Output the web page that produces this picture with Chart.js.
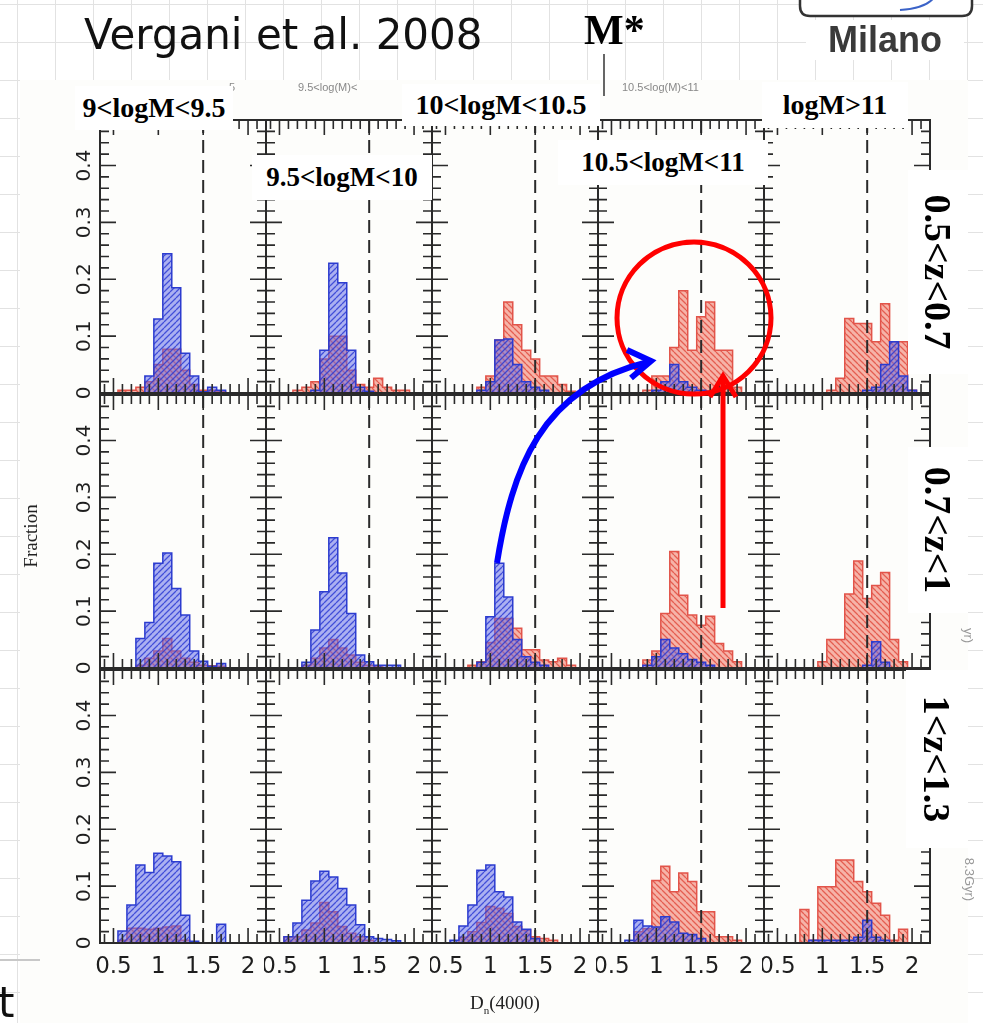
<!DOCTYPE html>
<html>
<head>
<meta charset="utf-8">
<script src="https://cdn.jsdelivr.net/npm/chart.js@4.4.1/dist/chart.umd.min.js"></script>
<style>
html, body { margin: 0; padding: 0; }
body {
  width: 983px; height: 1023px; position: relative; overflow: hidden; background: #fff;
  background-image: linear-gradient(#e2e2e2 1px, transparent 1px), linear-gradient(90deg, #e2e2e2 1px, transparent 1px);
  background-size: 38px 38px; background-position: 0 4px, 17px 0;
}
#fig { position: absolute; left: 20px; top: 80px; width: 948px; height: 943px; background: #fdfdfb; }
#plots { position: absolute; left: 0; top: 0; z-index: 1; }
#plots canvas { position: absolute; }
#marks { position: absolute; left: 0; top: 0; z-index: 2; }
.box { position: absolute; background: #fff; z-index: 3; display: flex; align-items: center; justify-content: center;
  font-family: "Liberation Serif", serif; font-weight: bold; color: #000; white-space: nowrap; }
.rot { transform: rotate(90deg); }
.txt { position: absolute; white-space: nowrap; z-index: 3; }
</style>
</head>
<body>
<div id="fig"></div>
<div id="plots"></div>

<svg id="marks" width="983" height="1023">
  <ellipse cx="694" cy="318" rx="77" ry="76" fill="none" stroke="#ff0000" stroke-width="5"/>
  <path d="M723 608 L723 377" stroke="#ff0000" stroke-width="5" fill="none"/>
  <path d="M710 397 L723 376 L736 397" stroke="#ff0000" stroke-width="5" fill="none"/>
  <path d="M497 563 C512 470 540 388 648 362" stroke="#0000ff" stroke-width="6" fill="none"/>
  <path d="M627 350 L651 361 L631 378" stroke="#0000ff" stroke-width="6" fill="none"/>
  <line x1="604" y1="54" x2="604" y2="96" stroke="#000" stroke-width="1.2"/>
  <path d="M800 -20 L800 6 Q800 16 810 16 L962 16 Q972 16 972 6 L972 -20" stroke="#333" stroke-width="2.5" fill="#fff"/>
  <path d="M900 10 Q930 8 936 -6" stroke="#3b63c8" stroke-width="2" fill="none"/>
  <line x1="0" y1="960" x2="40" y2="960" stroke="#c8c8c8" stroke-width="2"/>
</svg>

<div class="txt" style="left:84px;top:10px;font:42px 'DejaVu Sans';color:#111;">Vergani et al. 2008</div>
<div class="txt" style="left:584px;top:6px;font:bold 42px 'Liberation Serif';color:#000;">M*</div>
<div class="box" style="left:806px;top:20px;width:158px;height:40px;font-family:'Liberation Sans';font-size:36px;color:#3a3a3a;">Milano</div>
<div class="txt" style="left:-2px;top:978px;font:42px 'DejaVu Sans';color:#111;">t</div>

<div class="txt" style="left:229px;top:81px;font:11px 'Liberation Sans';color:#888;">5</div>
<div class="txt" style="left:298px;top:81px;font:11px 'Liberation Sans';color:#888;">9.5&lt;log(M)&lt;</div>
<div class="txt" style="left:622px;top:81px;font:11px 'Liberation Sans';color:#888;">10.5&lt;log(M)&lt;11</div>

<div class="box" style="left:75px;top:86px;width:158px;height:44px;font-size:28px;">9&lt;logM&lt;9.5</div>
<div class="box" style="left:252px;top:155px;width:180px;height:45px;font-size:27px;">9.5&lt;logM&lt;10</div>
<div class="box" style="left:402px;top:84px;width:198px;height:42px;font-size:28px;">10&lt;logM&lt;10.5</div>
<div class="box" style="left:558px;top:140px;width:210px;height:45px;font-size:27px;">10.5&lt;logM&lt;11</div>
<div class="box" style="left:762px;top:82px;width:146px;height:46px;font-size:28px;">logM&gt;11</div>

<div class="box" style="left:908px;top:170px;width:60px;height:204px;font-size:38px;"><span class="rot">0.5&lt;z&lt;0.7</span></div>
<div class="box" style="left:908px;top:447px;width:60px;height:166px;font-size:38px;"><span class="rot">0.7&lt;z&lt;1</span></div>
<div class="box" style="left:906px;top:670px;width:62px;height:178px;font-size:38px;"><span class="rot">1&lt;z&lt;1.3</span></div>

<div class="txt" style="left:961px;top:628px;font:13px 'Liberation Sans';color:#999;transform:rotate(90deg);">yr)</div>
<div class="txt" style="left:948px;top:872px;font:13px 'Liberation Sans';color:#999;transform:rotate(90deg);">8.3Gyr)</div>

<div class="txt" style="left:-4px;top:525px;width:70px;text-align:center;font:19px 'Liberation Serif';color:#222;transform:rotate(-90deg);">Fraction</div>
<div class="txt" style="left:470px;top:992px;font:19px 'Liberation Serif';color:#222;">D<sub style="font-size:11px;">n</sub>(4000)</div>

<script>
// D_n(4000) bin centres shared by all panels
const binCenters = [0.5, 0.6, 0.7, 0.8, 0.9, 1.0, 1.1, 1.2, 1.3, 1.4, 1.5, 1.6, 1.7, 1.8, 1.9, 2.0, 2.1];
const yTickValues = [0, 0.1, 0.2, 0.3, 0.4];
const yTickLabels = ['0', '0.1', '0.2', '0.3', '0.4'];
const xTickValues = [0.5, 1, 1.5, 2];
const xTickLabels = ['0.5', '1', '1.5', '2'];
const mStarD4000 = 1.5;

// 0.5<z<0.7, columns = 9<logM<9.5 ... logM>11
const blueZ1 = [
  [0, 0, 0, 0, 0.03, 0.13, 0.245, 0.185, 0.07, 0.03, 0.002, 0.01, 0.005, 0, 0, 0, 0],
  [0, 0, 0, 0, 0.005, 0.075, 0.228, 0.194, 0.075, 0.01, 0.003, 0, 0, 0, 0, 0, 0],
  [0, 0, 0, 0, 0.005, 0.02, 0.093, 0.095, 0.05, 0.02, 0.01, 0.005, 0, 0, 0, 0, 0],
  [0, 0, 0, 0, 0, 0.005, 0.02, 0.05, 0.02, 0.01, 0.005, 0.003, 0, 0, 0, 0, 0],
  [0, 0, 0, 0, 0, 0, 0, 0, 0, 0, 0.005, 0.01, 0.05, 0.09, 0.03, 0.005, 0]
];
const redZ1 = [
  [0, 0.005, 0.005, 0.01, 0.02, 0.05, 0.077, 0.077, 0.04, 0.015, 0.005, 0.005, 0.003, 0, 0, 0, 0],
  [0, 0, 0.005, 0.01, 0.02, 0.06, 0.1, 0.1, 0.04, 0.015, 0.01, 0.026, 0.01, 0.005, 0.005, 0, 0],
  [0, 0, 0, 0, 0.01, 0.03, 0.093, 0.16, 0.12, 0.075, 0.06, 0.03, 0.03, 0.015, 0.003, 0, 0],
  [0, 0, 0, 0, 0.005, 0.03, 0.03, 0.08, 0.18, 0.075, 0.134, 0.16, 0.075, 0.075, 0.01, 0, 0],
  [0, 0, 0, 0, 0, 0, 0.005, 0.026, 0.131, 0.122, 0.122, 0.09, 0.157, 0.09, 0.09, 0.005, 0]
];
// 0.7<z<1
const blueZ2 = [
  [0, 0, 0, 0.052, 0.08, 0.184, 0.202, 0.14, 0.093, 0.03, 0.012, 0.003, 0.008, 0, 0, 0, 0],
  [0, 0, 0, 0.01, 0.067, 0.134, 0.229, 0.167, 0.096, 0.023, 0.011, 0.005, 0.005, 0.005, 0, 0, 0],
  [0, 0, 0, 0, 0.01, 0.09, 0.184, 0.125, 0.05, 0.02, 0.01, 0.005, 0, 0, 0, 0, 0],
  [0, 0, 0, 0, 0.005, 0.02, 0.05, 0.035, 0.025, 0.015, 0.01, 0.005, 0, 0, 0, 0, 0],
  [0, 0, 0, 0, 0, 0, 0, 0, 0, 0, 0.005, 0.046, 0.01, 0, 0, 0, 0]
];
const redZ2 = [
  [0, 0, 0, 0.005, 0.017, 0.03, 0.052, 0.03, 0.017, 0.01, 0.005, 0.004, 0.003, 0, 0, 0, 0],
  [0, 0, 0, 0.005, 0.017, 0.035, 0.05, 0.035, 0.023, 0.01, 0.005, 0.003, 0, 0, 0, 0, 0],
  [0, 0, 0, 0.005, 0.011, 0.045, 0.087, 0.087, 0.07, 0.032, 0.032, 0.014, 0.011, 0.017, 0.005, 0, 0],
  [0, 0, 0, 0, 0.014, 0.03, 0.096, 0.205, 0.128, 0.093, 0.075, 0.091, 0.043, 0.03, 0.011, 0, 0],
  [0, 0, 0, 0, 0, 0.011, 0.05, 0.05, 0.13, 0.188, 0.122, 0.145, 0.168, 0.05, 0.011, 0, 0]
];
// 1<z<1.3
const blueZ3 = [
  [0, 0.021, 0.067, 0.137, 0.124, 0.158, 0.153, 0.143, 0.049, 0.003, 0, 0, 0.033, 0, 0, 0, 0],
  [0, 0.011, 0.035, 0.075, 0.109, 0.126, 0.116, 0.096, 0.067, 0.032, 0.011, 0.008, 0.006, 0.004, 0, 0, 0],
  [0, 0.005, 0.03, 0.067, 0.128, 0.137, 0.09, 0.081, 0.037, 0.024, 0.008, 0, 0, 0, 0, 0, 0],
  [0, 0, 0.005, 0.04, 0.03, 0.028, 0.046, 0.037, 0.017, 0.015, 0.008, 0, 0, 0, 0, 0, 0],
  [0, 0, 0, 0, 0.005, 0.005, 0.005, 0.005, 0.005, 0.01, 0.04, 0.01, 0.005, 0, 0, 0, 0]
];
const redZ3 = [
  [0, 0.005, 0.026, 0.026, 0.024, 0.026, 0.028, 0.03, 0.005, 0, 0, 0, 0, 0, 0, 0, 0],
  [0, 0.011, 0.011, 0.023, 0.035, 0.071, 0.055, 0.029, 0.017, 0.011, 0.005, 0, 0, 0, 0, 0, 0],
  [0, 0, 0.01, 0.02, 0.036, 0.064, 0.061, 0.052, 0.029, 0.023, 0.011, 0.008, 0.005, 0, 0, 0, 0],
  [0, 0, 0, 0.02, 0.025, 0.11, 0.135, 0.09, 0.123, 0.108, 0.055, 0.055, 0.011, 0.011, 0.005, 0, 0],
  [0, 0, 0, 0.059, 0.005, 0.099, 0.099, 0.146, 0.146, 0.108, 0.09, 0.07, 0.049, 0.005, 0.024, 0, 0]
];

const blueRows = [blueZ1, blueZ2, blueZ3];
const redRows = [redZ1, redZ2, redZ3];

// panel geometry (px)
const COL0 = 100, PW = 166, PH = 273;
const ROW_TOPS = [120, 395, 670];

function hatch(bg, fg, up) {
  const s = 6;
  const c = document.createElement('canvas');
  c.width = s; c.height = s;
  const g = c.getContext('2d');
  g.fillStyle = bg;
  g.fillRect(0, 0, s, s);
  g.strokeStyle = fg;
  g.lineWidth = 1.3;
  g.beginPath();
  for (let k = -1; k <= 1; k++) {
    if (up) { g.moveTo(k * s, s); g.lineTo(k * s + s, 0); }
    else { g.moveTo(k * s, 0); g.lineTo(k * s + s, s); }
  }
  g.stroke();
  return g.createPattern(c, 'repeat');
}

const frame = {
  id: 'frame',
  afterDatasetsDraw(chart, args, opts) {
    const { ctx, chartArea: a, scales: { x, y } } = chart;
    ctx.save();
    ctx.strokeStyle = '#2a2a2a';
    // M* dashed line
    ctx.lineWidth = 2;
    ctx.setLineDash([13, 7]);
    const xd = x.getPixelForValue(mStarD4000);
    ctx.beginPath();
    ctx.moveTo(xd, a.top);
    ctx.lineTo(xd, a.bottom);
    ctx.stroke();
    ctx.setLineDash([]);
    // ticks on all four sides, pointing in
    ctx.lineWidth = 1.6;
    ctx.beginPath();
    for (let k = 4; k <= 22; k++) {
      const p = x.getPixelForValue(k / 10);
      const L = k % 5 === 0 ? 15 : 9;
      ctx.moveTo(p, a.bottom); ctx.lineTo(p, a.bottom - L);
      ctx.moveTo(p, a.top); ctx.lineTo(p, a.top + L);
    }
    for (let k = 1; k <= 23; k++) {
      const p = y.getPixelForValue(k / 50);
      const L = k % 5 === 0 ? 16 : 9;
      ctx.moveTo(a.left, p); ctx.lineTo(a.left + L, p);
      ctx.moveTo(a.right, p); ctx.lineTo(a.right - L, p);
    }
    ctx.stroke();
    ctx.lineWidth = 2;
    ctx.strokeRect(a.left, a.top, a.right - a.left, a.bottom - a.top);
    ctx.fillStyle = '#1e1e1e';
    ctx.textAlign = 'center';
    ctx.textBaseline = 'middle';
    if (opts.yLabels) {
      ctx.font = '20px "DejaVu Sans"';
      yTickValues.forEach((v, i) => {
        ctx.save();
        ctx.translate(a.left - 15, y.getPixelForValue(v));
        ctx.rotate(-Math.PI / 2);
        ctx.fillText(yTickLabels[i], 0, 0);
        ctx.restore();
      });
    }
    if (opts.xLabels) {
      ctx.font = '23px "DejaVu Sans"';
      xTickValues.forEach((v, i) => {
        ctx.fillText(xTickLabels[i], x.getPixelForValue(v), a.bottom + 24);
      });
    }
    ctx.restore();
  }
};

const bluePattern = hatch('rgba(95,105,232,0.52)', 'rgba(40,55,210,0.8)', true);
const redPattern = hatch('rgba(240,118,100,0.55)', 'rgba(222,66,52,0.75)', false);
const holder = document.getElementById('plots');

for (let r = 0; r < 3; r++) {
  for (let c = 0; c < 5; c++) {
    const padL = 2 + (c === 0 ? 42 : 0);
    const padB = 2 + (r === 2 ? 46 : (c === 0 ? 14 : 0));
    const cv = document.createElement('canvas');
    cv.width = PW + padL + 2;
    cv.height = PH + 2 + padB;
    cv.style.left = (COL0 + c * PW - padL) + 'px';
    cv.style.top = (ROW_TOPS[r] - 2) + 'px';
    holder.appendChild(cv);

    const toPts = arr => binCenters.map((b, i) => ({ x: b, y: arr[i] }));
    new Chart(cv, {
      type: 'line',
      data: {
        datasets: [{
          data: toPts(blueRows[r][c]),
          stepped: 'middle',
          borderColor: '#2c3ccf',
          borderWidth: 1.5,
          backgroundColor: bluePattern,
          fill: 'origin',
          pointRadius: 0
        }, {
          data: toPts(redRows[r][c]),
          stepped: 'middle',
          borderColor: '#e2544a',
          borderWidth: 1.5,
          backgroundColor: redPattern,
          fill: 'origin',
          pointRadius: 0
        }]
      },
      options: {
        responsive: false,
        animation: false,
        events: [],
        layout: { padding: { left: padL, right: 2, top: 2, bottom: padB } },
        plugins: {
          legend: { display: false },
          tooltip: { enabled: false },
          frame: { yLabels: c === 0, xLabels: r === 2 }
        },
        scales: {
          x: { type: 'linear', min: 0.35, max: 2.2, display: false },
          y: { type: 'linear', min: 0, max: 0.48, display: false }
        }
      },
      plugins: [frame]
    });
  }
}
</script>
</body>
</html>
